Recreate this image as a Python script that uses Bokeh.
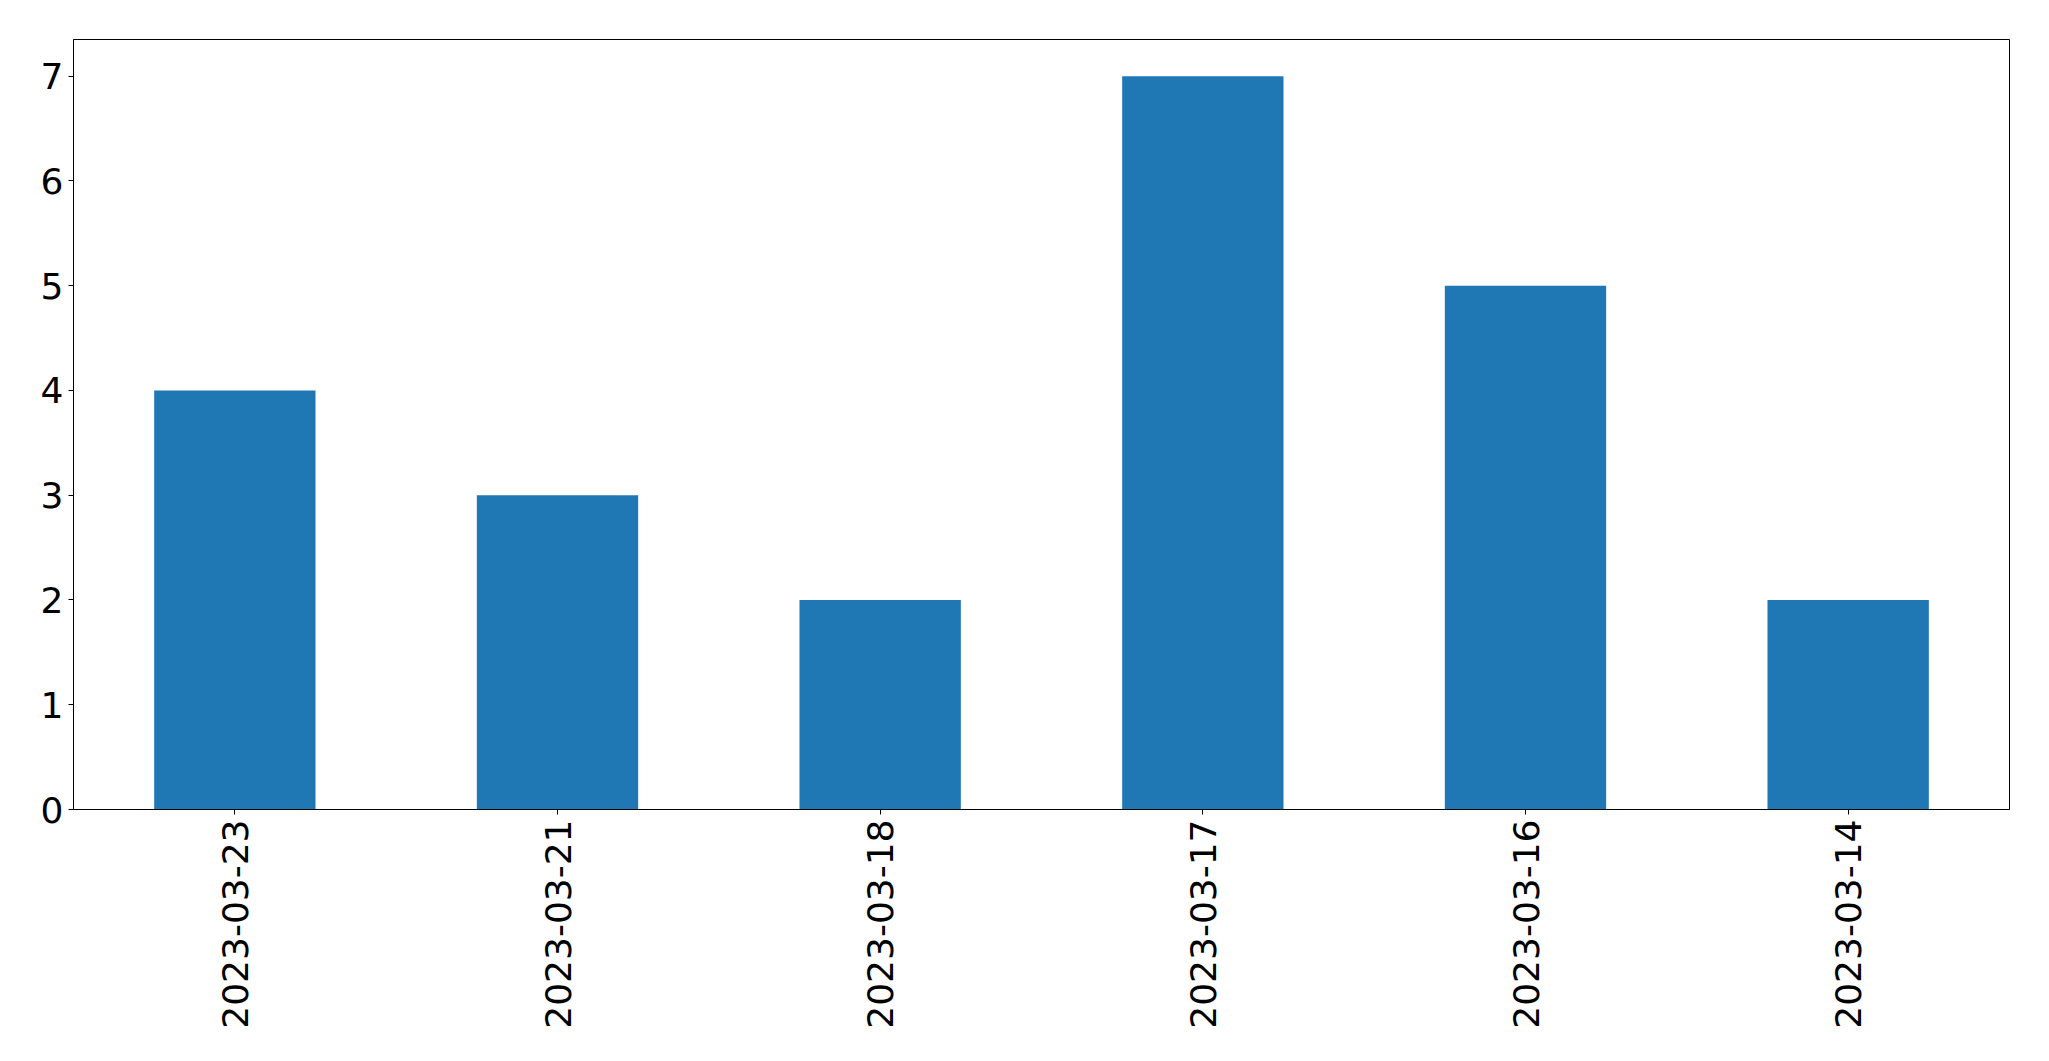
import math
from bokeh.plotting import figure
from bokeh.models import FactorRange, Range1d, FixedTicker, ColumnDataSource
from bokeh.embed import file_html
from bokeh.resources import INLINE

dates = ["2023-03-23", "2023-03-21", "2023-03-18", "2023-03-17", "2023-03-16", "2023-03-14"]
counts = [4, 3, 2, 7, 5, 2]
y_ticks = [0, 1, 2, 3, 4, 5, 6, 7]

src = ColumnDataSource(dict(x=dates, top=counts))

p = figure(
    x_range=FactorRange(factors=dates, range_padding=0),
    y_range=Range1d(0, max(counts) * 1.05),
    width=2038, height=1053,
    min_border_left=73, min_border_right=29, min_border_top=39, min_border_bottom=244,
    output_backend="svg", toolbar_location=None,
)
p.vbar(x="x", top="top", width=0.5, source=src, fill_color="#1f77b4", line_color=None)

p.xgrid.visible = False
p.ygrid.visible = False
p.outline_line_color = "black"
p.outline_line_width = 1
p.background_fill_color = "white"
p.border_fill_color = "white"

for ax in (p.xaxis, p.yaxis):
    ax.axis_line_color = "black"
    ax.major_tick_line_color = "black"
    ax.major_tick_out = 5
    ax.major_tick_in = 0
    ax.minor_tick_line_color = None
    ax.major_label_text_font = "DejaVu Sans"
    ax.major_label_text_font_size = "36px"
    ax.major_label_text_color = "black"
    ax.major_label_standoff = 5

p.yaxis.ticker = FixedTicker(ticks=y_ticks)
p.xaxis.major_label_orientation = math.pi / 2

open("out.html", "w").write(file_html(p, INLINE))
